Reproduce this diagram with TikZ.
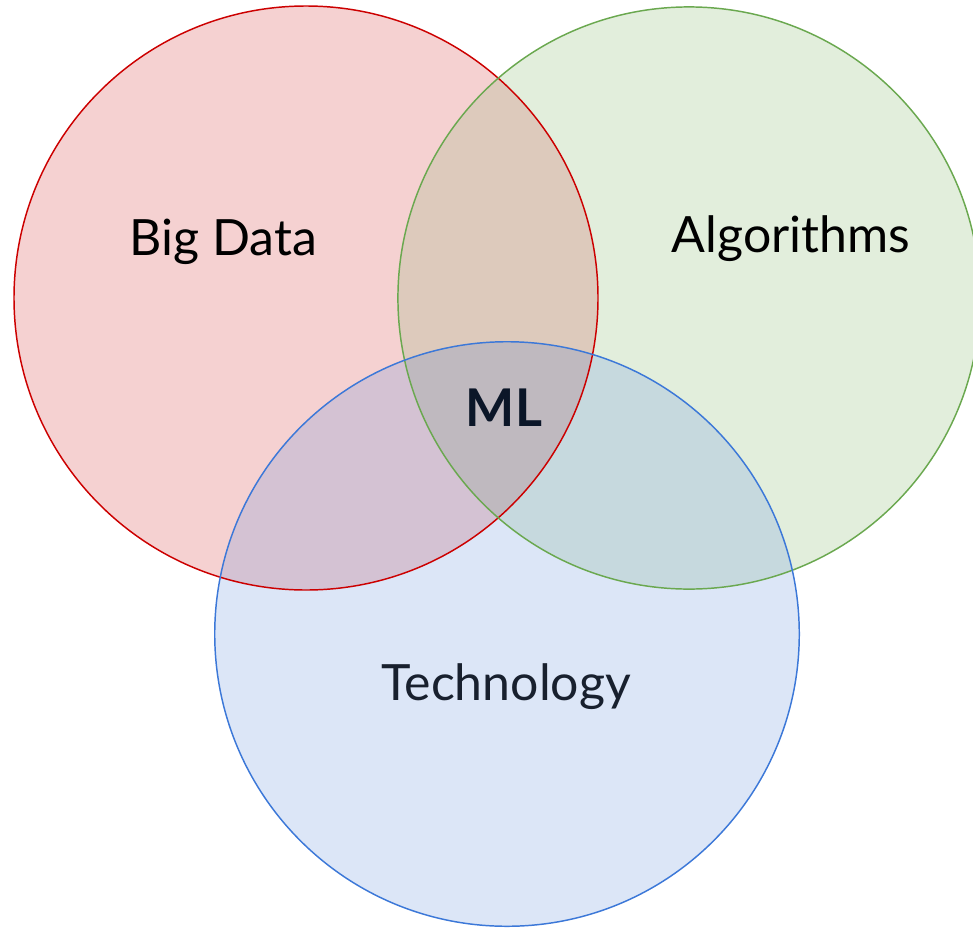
\documentclass[tikz,border=0pt]{standalone}
\usepackage{fontspec}
\setmainfont{Lato}
\definecolor{cR}{HTML}{F5D1D1}
\definecolor{cG}{HTML}{E2EEDC}
\definecolor{cB}{HTML}{DCE6F7}
\definecolor{cRG}{HTML}{DDCABC}
\definecolor{cRB}{HTML}{D4C2D3}
\definecolor{cGB}{HTML}{C6D9DE}
\definecolor{cRGB}{HTML}{BFB9BF}
\definecolor{sR}{HTML}{CC0000}
\definecolor{sG}{HTML}{6AA84F}
\definecolor{sB}{HTML}{3C78D8}
\definecolor{navy}{HTML}{0B1628}
\definecolor{tech}{HTML}{18202E}
\begin{document}
\begin{tikzpicture}[x=0.75pt,y=-0.75pt,
  ring/.style={line width=1.1pt},
  lbl/.style={anchor=base,inner sep=0pt,font=\fontsize{37.5}{40}\selectfont}]
\useasboundingbox (0,0) rectangle (973,928);
\clip (0,0) rectangle (973,928);
\coordinate (cr) at (306,298);
\coordinate (cg) at (689,298);
\coordinate (cb) at (507,634);
\def\rr{219pt}\def\rg{218.3pt}\def\rb{219.2pt}
% base fills
\fill[cR] (cr) circle (\rr);
\fill[cG] (cg) circle (\rg);
\fill[cB] (cb) circle (\rb);
% pairwise overlaps
\begin{scope}\clip (cr) circle (\rr); \fill[cRG] (cg) circle (\rg); \fill[cRB] (cb) circle (\rb);\end{scope}
\begin{scope}\clip (cg) circle (\rg); \fill[cGB] (cb) circle (\rb);\end{scope}
\begin{scope}\clip (cr) circle (\rr); \clip (cg) circle (\rg); \fill[cRGB] (cb) circle (\rb);\end{scope}
% outlines
\draw[ring,sR] (cr) circle (\rr);
\draw[ring,sG] (cg) circle (\rg);
\draw[ring,sB] (cb) circle (\rb);
% labels
\node[lbl,text=black] (bigdata) at (223.5,255) {Big Data};
\node[lbl,text=black] (algo) at (791,252) {Algorithms};
\node[lbl,text=navy,font=\fontsize{39}{42}\selectfont\bfseries] (ml) at (504,426) {ML};
\node[lbl,text=tech] (techn) at (506,700) {Technology};
\end{tikzpicture}
\end{document}
